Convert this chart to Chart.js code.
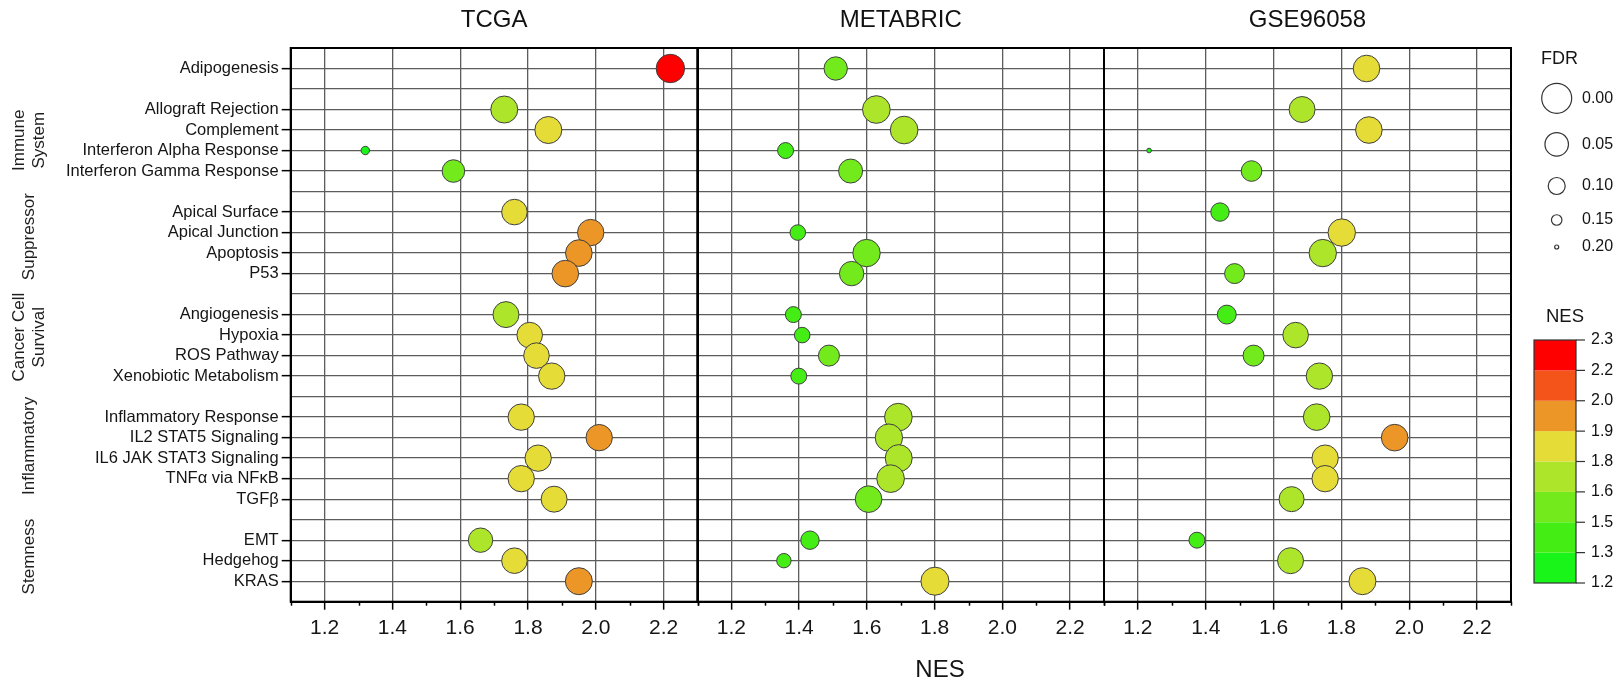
<!DOCTYPE html>
<html>
<head>
<meta charset="utf-8">
<title>Hallmark pathways NES bubble chart</title>
<script src="https://cdn.jsdelivr.net/npm/chart.js@4.4.1/dist/chart.umd.min.js"></script>
<style>
    html, body { margin: 0; padding: 0; background: #fff; }
    #wrap { position: relative; width: 1623px; height: 684px; }
    #wrap canvas { position: absolute; left: 0; top: 0; }
</style>
</head>
<body>
<div id="wrap">
    <canvas id="tcga" width="1623" height="684"></canvas>
    <canvas id="metabric" width="1623" height="684"></canvas>
    <canvas id="gse" width="1623" height="684"></canvas>
</div>
<script>
// rows of the y axis, '' = spacer row between groups
const rowLabels = [
    'Adipogenesis', '',
    'Allograft Rejection', 'Complement', 'Interferon Alpha Response', 'Interferon Gamma Response', '',
    'Apical Surface', 'Apical Junction', 'Apoptosis', 'P53', '',
    'Angiogenesis', 'Hypoxia', 'ROS Pathway', 'Xenobiotic Metabolism', '',
    'Inflammatory Response', 'IL2 STAT5 Signaling', 'IL6 JAK STAT3 Signaling', 'TNFα via NFκB', 'TGFβ', '',
    'EMT', 'Hedgehog', 'KRAS'
];

const groupNames = [['Immune', 'System'], ['Suppressor'], ['Cancer Cell', 'Survival'], ['Inflammatory'], ['Stemness']];
const groupCenters = [3.5, 8.2, 13.1, 18.4, 23.8];   // row position of each group caption

const tcgaNES = [2.22, null, 1.73, 1.86, 1.32, 1.58, null, 1.76, 1.985, 1.95, 1.91, null,
    1.735, 1.805, 1.825, 1.87, null, 1.78, 2.01, 1.83, 1.78, 1.877, null, 1.66, 1.76, 1.95];
const tcgaFDR = [0.012, null, 0.023, 0.023, 0.166, 0.057, null, 0.034, 0.028, 0.026, 0.026, null,
    0.031, 0.034, 0.034, 0.028, null, 0.028, 0.028, 0.028, 0.028, 0.031, null, 0.043, 0.034, 0.023];

const metabricNES = [1.508, null, 1.628, 1.71, 1.36, 1.552, null, null, 1.396, 1.599, 1.555, null,
    1.383, 1.409, 1.488, 1.399, null, 1.693, 1.665, 1.694, 1.67, 1.605, null, 1.432, 1.355, 1.801];
const metabricFDR = [0.051, null, 0.018, 0.018, 0.108, 0.046, null, null, 0.111, 0.02, 0.043, null,
    0.108, 0.111, 0.069, 0.108, null, 0.018, 0.02, 0.023, 0.018, 0.026, null, 0.089, 0.12, 0.015];

const gseNES = [1.874, null, 1.684, 1.881, 1.233, 1.535, null, 1.442, 1.801, 1.745, 1.485, null,
    1.462, 1.665, 1.541, 1.735, null, 1.727, 1.957, 1.752, 1.752, 1.653, null, 1.374, 1.65, 1.862];
const gseFDR = [0.026, null, 0.031, 0.026, 0.195, 0.072, null, 0.089, 0.02, 0.02, 0.077, null,
    0.085, 0.034, 0.069, 0.028, null, 0.026, 0.026, 0.028, 0.028, 0.038, null, 0.108, 0.031, 0.023];

const xTicks = [1.2, 1.4, 1.6, 1.8, 2.0, 2.2];
const xMinorTicks = [1.1, 1.3, 1.5, 1.7, 1.9, 2.1, 2.3];

// colour bar
const nesBreaks = [1.2, 1.3375, 1.475, 1.6125, 1.75, 1.8875, 2.025, 2.1625, 2.3];
const nesTickLabels = ['1.2', '1.3', '1.5', '1.6', '1.8', '1.9', '2.0', '2.2', '2.3'];
const nesColors = ['#19f519', '#44ee14', '#72ea1c', '#ace52a', '#e5dc38', '#ec9628', '#f4541a', '#ff0000'];

const fdrLegend = [0.00, 0.05, 0.10, 0.15, 0.20];

Chart.defaults.font.family = "'Liberation Sans', Arial, sans-serif";
Chart.defaults.color = '#151515';

const fdrRadius = fdr => 15 - 65 * fdr;

function nesColor(v) {
    for (let i = 0; i < nesColors.length; i++) {
        if (v < nesBreaks[i + 1]) return nesColors[i];
    }
    return nesColors[nesColors.length - 1];
}

function points(nes, fdr) {
    const pts = [];
    nes.forEach((v, i) => {
        if (v !== null) pts.push({x: v, y: i, r: fdrRadius(fdr[i])});
    });
    return pts;
}

const XAXIS_H = 82.3;
const GRID = '#5c5c5c';

// black frame round every panel + minor ticks
const framePlugin = {
    id: 'frame',
    beforeDatasetsDraw(chart) {
        const a = chart.chartArea, ctx = chart.ctx;
        ctx.save();
        ctx.strokeStyle = '#000';
        ctx.lineWidth = 2;
        ctx.strokeRect(a.left, a.top, a.right - a.left, a.bottom - a.top);
        const xs = chart.scales.x;
        ctx.lineWidth = 1.5;
        xMinorTicks.forEach(v => {
            const px = Math.round(xs.getPixelForValue(v)) + 0.5;
            ctx.beginPath();
            ctx.moveTo(px, a.bottom);
            ctx.lineTo(px, a.bottom + 4);
            ctx.stroke();
        });
        ctx.restore();
    }
};

const groupPlugin = {
    id: 'groups',
    afterDraw(chart) {
        const ctx = chart.ctx, ys = chart.scales.y;
        ctx.save();
        ctx.font = "17px 'Liberation Sans', Arial, sans-serif";
        ctx.fillStyle = '#1e1e1e';
        ctx.textAlign = 'center';
        ctx.textBaseline = 'middle';
        groupNames.forEach((lines, g) => {
            const y = ys.getPixelForValue(groupCenters[g]);
            ctx.save();
            ctx.translate(29.5, y);
            ctx.rotate(-Math.PI / 2);
            lines.forEach((t, k) => {
                ctx.fillText(t, 0, (k - (lines.length - 1) / 2) * 20.5);
            });
            ctx.restore();
        });
        ctx.restore();
    }
};

const nesTitlePlugin = {
    id: 'nesTitle',
    afterDraw(chart) {
        const ctx = chart.ctx;
        ctx.save();
        ctx.font = "24px 'Liberation Sans', Arial, sans-serif";
        ctx.fillStyle = '#151515';
        ctx.textAlign = 'center';
        ctx.textBaseline = 'middle';
        ctx.fillText('NES', 940, 670);
        ctx.restore();
    }
};

const legendPlugin = {
    id: 'sideLegend',
    afterDraw(chart) {
        const ctx = chart.ctx;
        ctx.save();
        ctx.fillStyle = '#151515';
        ctx.textBaseline = 'middle';

        // FDR size legend
        ctx.font = "18px 'Liberation Sans', Arial, sans-serif";
        ctx.textAlign = 'left';
        ctx.fillText('FDR', 1541, 59);
        const legendY = [98.3, 144.3, 186, 220, 247];
        ctx.font = "16px 'Liberation Sans', Arial, sans-serif";
        fdrLegend.forEach((f, i) => {
            ctx.beginPath();
            ctx.arc(1556.7, legendY[i], fdrRadius(f), 0, Math.PI * 2);
            ctx.strokeStyle = '#333';
            ctx.lineWidth = 1.2;
            ctx.stroke();
            ctx.fillText(f.toFixed(2), 1582, legendY[i]);
        });

        // NES colour bar
        ctx.font = "18.5px 'Liberation Sans', Arial, sans-serif";
        ctx.textAlign = 'center';
        ctx.fillText('NES', 1565, 317);
        const barL = 1534, barW = 42, barTop = 340, barBot = 583;
        const lo = nesBreaks[0], hi = nesBreaks[nesBreaks.length - 1];
        const yOf = v => barBot - (v - lo) / (hi - lo) * (barBot - barTop);
        nesColors.forEach((c, i) => {
            const y1 = yOf(nesBreaks[i + 1]), y0 = yOf(nesBreaks[i]);
            ctx.fillStyle = c;
            ctx.fillRect(barL, y1, barW, y0 - y1);
        });
        ctx.strokeStyle = '#333';
        ctx.lineWidth = 1.2;
        ctx.strokeRect(barL, barTop, barW, barBot - barTop);
        ctx.fillStyle = '#111';
        ctx.textAlign = 'left';
        ctx.font = "16px 'Liberation Sans', Arial, sans-serif";
        nesBreaks.forEach((b, i) => {
            const y = yOf(b);
            ctx.beginPath();
            ctx.moveTo(barL + barW, y);
            ctx.lineTo(barL + barW + 9, y);
            ctx.stroke();
            ctx.fillText(nesTickLabels[i], 1591, y);
        });
        ctx.restore();
    }
};

function makePanel(id, title, nes, fdr, left, right, showLabels, plugins) {
    const ctx = document.getElementById(id);
    return new Chart(ctx, {
        type: 'bubble',
        data: {
            datasets: [{
                label: title,
                data: points(nes, fdr),
                backgroundColor: c => nesColor(c.raw.x),
                borderColor: '#404040',
                borderWidth: 1
            }]
        },
        options: {
            responsive: false,
            animation: false,
            events: [],
            layout: {
                autoPadding: false,
                padding: {left: showLabels ? 0 : left, right: 1623 - right, top: 0, bottom: 0}
            },
            scales: {
                x: {
                    type: 'linear',
                    min: 1.1,
                    max: 2.3,
                    afterBuildTicks: s => { s.ticks = xTicks.map(v => ({value: v})); },
                    afterFit: s => { s.height = XAXIS_H; },
                    ticks: {
                        autoSkip: false,
                        maxRotation: 0,
                        padding: 6,
                        font: {size: 21},
                        callback: v => v.toFixed(1)
                    },
                    grid: {color: GRID, lineWidth: 1.3, tickLength: 8, tickColor: '#000', tickWidth: 1.5},
                    border: {color: '#000', width: 2}
                },
                y: {
                    type: 'linear',
                    reverse: true,
                    min: -1,
                    max: 26,
                    afterBuildTicks: s => { s.ticks = rowLabels.map((_, i) => ({value: i})); },
                    afterFit: s => { s.width = showLabels ? left : 0; },
                    ticks: {
                        display: showLabels,
                        autoSkip: false,
                        padding: 3,
                        font: {size: 16.5},
                        callback: v => rowLabels[v] || ''
                    },
                    grid: {
                        color: GRID,
                        lineWidth: 1.3,
                        drawTicks: showLabels,
                        tickLength: 9,
                        tickWidth: 1.5,
                        tickColor: c => rowLabels[c.tick.value] ? '#000' : 'rgba(0,0,0,0)'
                    },
                    border: {color: '#000', width: 2}
                }
            },
            plugins: {
                legend: {display: false},
                tooltip: {enabled: false},
                title: {
                    display: true,
                    text: title,
                    fullSize: false,
                    color: '#111',
                    font: {size: 24, weight: 'normal'},
                    padding: {top: 5.6, bottom: 13.6}
                }
            }
        },
        plugins: [framePlugin].concat(plugins)
    });
}

makePanel('tcga', 'TCGA', tcgaNES, tcgaFDR, 290.7, 697.5, true, [groupPlugin]);
makePanel('metabric', 'METABRIC', metabricNES, metabricFDR, 697.5, 1104, false, [nesTitlePlugin]);
makePanel('gse', 'GSE96058', gseNES, gseFDR, 1104, 1511, false, [legendPlugin]);
</script>
</body>
</html>
